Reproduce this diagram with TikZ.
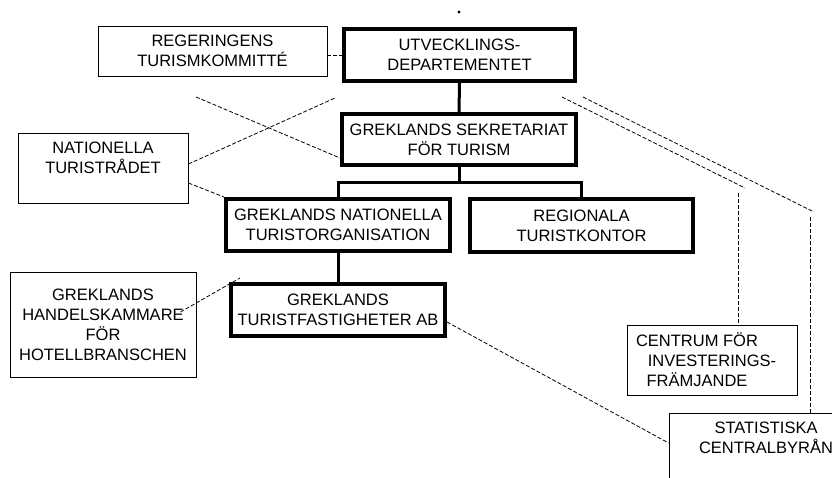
\documentclass[tikz,border=0pt]{standalone}
\usepackage{fontspec}
\setmainfont{Liberation Sans}
\tikzset{
  orgbox/.style={draw, line width=4pt, align=center, inner sep=2pt},
  sidebox/.style={draw, line width=0.9pt, align=center, inner sep=2pt},
  link/.style={line width=3pt},
  loose/.style={line width=0.8pt, dash pattern=on 4pt off 2pt}
}
\begin{document}
\begin{tikzpicture}[x=1pt, y=-1pt, font=\fontsize{16.5}{20}\selectfont]
    \useasboundingbox (0, 0) rectangle (832, 478);
    \fill (459, 12) circle (1.6pt);
    \node[sidebox, minimum width=229pt, minimum height=50pt] (reg) at (212.5, 51) {REGERINGENS\\TURISMKOMMITTÉ};
    \node[orgbox, minimum width=231pt, minimum height=52pt] (utv) at (459.5, 55) {UTVECKLINGS-\\DEPARTEMENTET};
    \node[orgbox, minimum width=234pt, minimum height=51pt] (sekr) at (459, 139.5) {GREKLANDS SEKRETARIAT\\FÖR TURISM};
    \node[sidebox, minimum width=170pt, minimum height=70pt] (nat) at (103, 168) {NATIONELLA\\TURISTRÅDET\\~};
    \node[orgbox, minimum width=224pt, minimum height=52pt] (gnt) at (338, 225) {GREKLANDS NATIONELLA\\TURISTORGANISATION};
    \node[orgbox, minimum width=223pt, minimum height=53pt] (rto) at (581.5, 225.5) {REGIONALA\\TURISTKONTOR};
    \node[orgbox, minimum width=214pt, minimum height=52pt] (gtf) at (338, 310) {GREKLANDS\\TURISTFASTIGHETER AB};
    \node[sidebox, minimum width=186pt, minimum height=105pt] (hk) at (103, 324.5) {GREKLANDS\\HANDELSKAMMARE\\FÖR\\HOTELLBRANSCHEN};
    \node[sidebox, minimum width=170pt, minimum height=70pt] (cif) at (712, 360) {CENTRUM FÖR\hspace*{30pt}\\INVESTERINGS-\hspace*{30pt}\\FRÄMJANDE\hspace*{30pt}};
    \node[sidebox, minimum width=194pt, minimum height=89pt] (stat) at (766, 457.5) {STATISTISKA\\CENTRALBYRÅN\\~\\~};
    \coordinate (fork) at (459, 183);
    \coordinate (crossa) at (196, 97);
    \coordinate (crossb) at (335, 98);
    \coordinate (hktip) at (240, 278);
    \coordinate (cifbend) at (745, 188);
    \coordinate (cifdrop) at (738, 193);
    \coordinate (statbend) at (814, 212);
    \coordinate (statdrop) at (810, 217);
    \draw[link] (utv.south) -- (sekr.north);
    \draw[link] (sekr.south) -- (fork);
    \draw[link] (gnt.north) |- (fork) -| (rto.north);
    \draw[link] (gnt.south) -- (gtf.north);
    \draw[loose] (reg.east |- utv.west) -- (utv.west);
    \draw[loose] (crossa) -- ([yshift=-18.5pt]sekr.west);
    \draw[loose] ([yshift=4pt]nat.east) -- (crossb);
    \draw[loose] ([yshift=-15pt]nat.east) -- (gnt.north west);
    \draw[loose] ([xshift=-16pt, yshift=12.5pt]hk.east) -- (hktip);
    \draw[loose] ([yshift=-12pt]gtf.east) -- ([yshift=14.5pt]stat.west);
    \draw[loose] (562, 97) -- (cifbend);
    \draw[loose] (cifdrop) -- ([xshift=26pt]cif.north);
    \draw[loose] (583, 97) -- (statbend);
    \draw[loose] (statdrop) -- ([xshift=44pt]stat.north);
\end{tikzpicture}
\end{document}
